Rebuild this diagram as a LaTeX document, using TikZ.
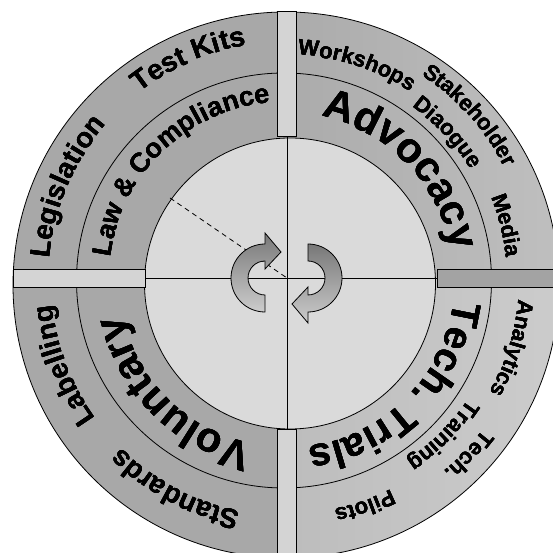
\documentclass[tikz,border=0pt]{standalone}
\usepackage{fontspec}
\newfontfamily\labfontX{Liberation Sans}
\newcommand\labfont{\labfontX\bfseries}
\usetikzlibrary{decorations.text,calc}
\definecolor{qTL}{gray}{0.66}
\definecolor{qBL}{gray}{0.66}
\definecolor{qTRa}{gray}{0.67}
\definecolor{qTRb}{gray}{0.75}
\definecolor{qBRa}{gray}{0.74}
\definecolor{qBRb}{gray}{0.80}
\definecolor{disc}{gray}{0.855}
\definecolor{barlight}{gray}{0.83}
\definecolor{bardark}{gray}{0.64}
\definecolor{arrtop}{gray}{0.47}
\definecolor{arrbot}{gray}{0.80}
\newcommand\arclabel[5]{%
  \foreach \ang in {45,135,225,315}{%
  \path[shift={(\ang:#5pt)}, decorate, decoration={text along path, text align=center,
    text={|\labfont\fontsize{#3}{#3}\selectfont|#4}}]
    ($(T)+({#1+80}:#2pt)$) arc[start angle={#1+80}, end angle={#1-80}, radius=#2pt];}}
\begin{document}
\begin{tikzpicture}[x=1pt,y=1pt, outline/.style={draw=black, line width=0.8pt},
  barbox/.style={outline, fill=barlight}]
\useasboundingbox (0,0) rectangle (552,553);
\coordinate (C) at (287,275);
\coordinate (T) at (287,273);
\coordinate (Oc) at (286,268);
\coordinate (Mc) at (284,272.5);
\coordinate (Ic) at (290,269.5);
% quadrants
\begin{scope}
  \clip (Oc) circle[radius=273pt];
  \fill[qTL] (0,275) rectangle (287,560);
  \shade[left color=qTRa, right color=qTRb] (287,275) rectangle (560,560);
  \shade[left color=qBRa, right color=qBRb] (287,-10) rectangle (560,275);
  \fill[qBL] (0,-10) rectangle (287,275);
\end{scope}
\draw[outline] (Oc) circle[radius=273pt];
\draw[outline] (Mc) circle[radius=207.5pt];
\draw[outline, fill=disc] (Ic) circle[radius=145.5pt];
% crosshair
\coordinate (hl) at (145,275);
\coordinate (hr) at (437,275);
\coordinate (vt) at (287,417);
\coordinate (vb) at (287,124);
\draw[line width=0.8pt] (hl) -- (hr);
\draw[line width=0.8pt] (vt) -- (vb);
\coordinate (dstart) at (170,355);
\draw[line width=0.8pt, dash pattern=on 5pt off 4pt] (dstart) -- (C);
% bars
\draw[barbox] (277,417) rectangle (296,542);
\draw[barbox] (277,-5) rectangle (296,124);
\draw[barbox] (13,266) rectangle (145,284);
\draw[outline, fill=bardark] (437,266) rectangle (560,284);
% labels
\arclabel{157}{238}{28}{Legislation}{0.9}
\arclabel{114}{238}{28}{Test Kits}{0.9}
\arclabel{134}{178}{27}{Law {\&} Compliance}{0.9}
\arclabel{44}{167}{42}{Advocacy}{1.3}
\arclabel{72}{225}{22}{Workshops}{0.7}
\arclabel{42}{245}{22}{Stakeholder}{0.7}
\arclabel{42.5}{214}{22}{Diaogue}{0.7}
\arclabel{14}{220}{22}{Media}{0.7}
\arclabel{-45}{168}{40}{Tech. Trials}{1.3}
\arclabel{-17}{232}{22}{Analytics}{0.7}
\arclabel{-44}{247}{22}{Tech.}{0.7}
\arclabel{-45}{217}{22}{Training}{0.7}
\arclabel{-71}{234}{22}{Pilots}{0.7}
\arclabel{225}{168}{42}{Voluntary}{1.3}
\arclabel{242}{236}{28}{Standards}{0.9}
\arclabel{201}{236}{28}{Labelling}{0.9}
% arrows
\coordinate (L) at (265,275);
\coordinate (R) at (308,275);
\shadedraw[top color=arrtop, bottom color=arrbot, draw=black, line width=0.8pt]
  ($(L)+(0,-34)$) arc[start angle=270, end angle=90, radius=34pt]
  -- ($(L)+(0,45)$) -- ($(L)+(16,26)$) -- ($(L)+(0,9)$) -- ($(L)+(0,17)$)
  arc[start angle=90, end angle=270, radius=17pt] -- cycle;
\shadedraw[top color=arrtop, bottom color=arrbot, draw=black, line width=0.8pt]
  ($(R)+(0,34)$) arc[start angle=90, end angle=-90, radius=34pt]
  -- ($(R)+(0,-45)$) -- ($(R)+(-16,-26)$) -- ($(R)+(0,-9)$) -- ($(R)+(0,-17)$)
  arc[start angle=-90, end angle=90, radius=17pt] -- cycle;
\end{tikzpicture}
\end{document}
